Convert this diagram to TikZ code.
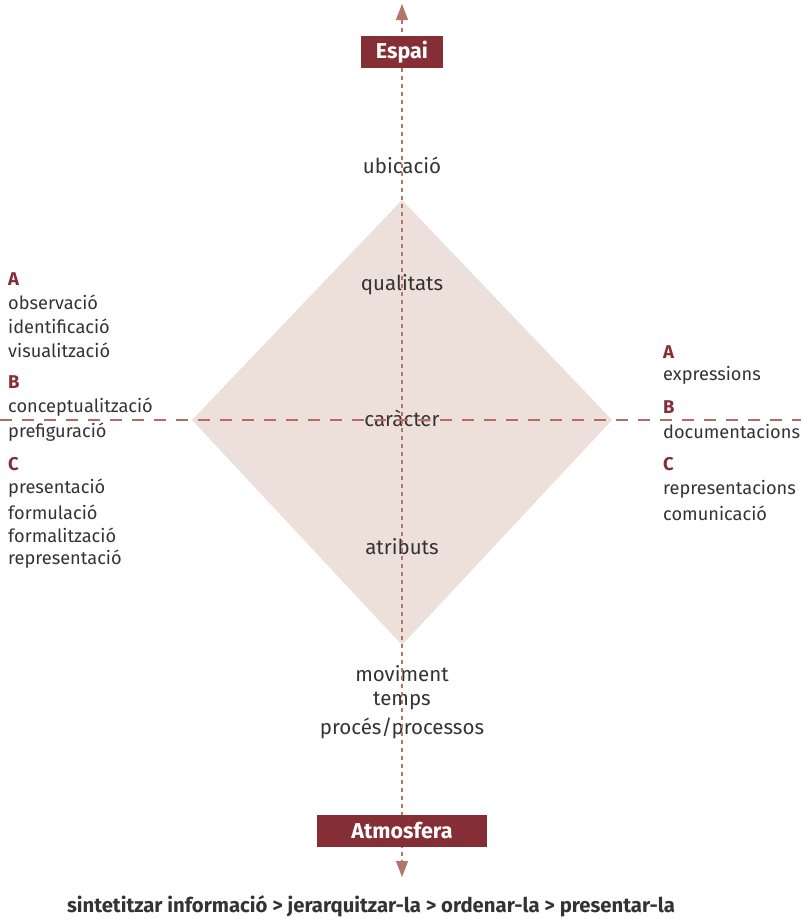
\documentclass[tikz,border=0pt]{standalone}
\usepackage{fontspec}
\setmainfont{Fira Sans}
\usetikzlibrary{arrows.meta}
\definecolor{wine}{HTML}{862E35}
\definecolor{dashc}{HTML}{B86B5E}
\definecolor{arrc}{HTML}{B07868}
\definecolor{diamondc}{HTML}{EDDFDA}
\definecolor{txt}{HTML}{333333}
\tikzset{
  lbl/.style={font=\fontsize{20.5}{20.5}\selectfont, text=txt, inner sep=0pt},
  sidetxt/.style={font=\fontsize{18.2}{18.2}\selectfont, text=txt, inner sep=0pt, anchor=west},
  letter/.style={font=\fontsize{18.5}{18.5}\selectfont\bfseries, text=wine, inner sep=0pt, anchor=west},
  axisbox/.style={fill=wine, text=white, font=\fontsize{21.5}{21.5}\selectfont\bfseries, inner sep=0pt, minimum height=32pt},
  hdash/.style={draw=dashc, line width=1.1pt, dash pattern=on 12pt off 10pt},
  vdash/.style={draw=arrc, line width=1.1pt, dash pattern=on 4pt off 4pt},
}
\begin{document}
\begin{tikzpicture}[x=1pt,y=-1pt]
\useasboundingbox (0,0) rectangle (801,918);
% diamond
\coordinate (dT) at (402,200);
\coordinate (dR) at (612,420);
\coordinate (dB) at (402,645);
\coordinate (dL) at (192,420);
\fill[diamondc] (dT) -- (dR) -- (dB) -- (dL) -- cycle;
% centre labels
\node[lbl] (ubic) at (402,165) {ubicació};
\node[lbl] (qual) at (402,285) {qualitats};
\node[lbl] (carac) at (402,418) {caràcter};
\node[lbl] (atrib) at (402,547) {atributs};
\node[lbl] (movi) at (402,674) {moviment};
\node[lbl] (temps) at (402,701) {temps};
\node[lbl] (proc) at (402,728) {procés/processos};
% left column
\node[letter] (lA) at (8,279) {A};
\node[sidetxt] (l1) at (8,302) {observació};
\node[sidetxt] (l2) at (8,326) {identificació};
\node[sidetxt] (l3) at (8,350) {visualització};
\node[letter] (lB) at (8,382) {B};
\node[sidetxt] (l4) at (8,407) {conceptualització};
\node[sidetxt] (l5) at (8,432) {prefiguració};
\node[letter] (lC) at (8,464) {C};
\node[sidetxt] (l6) at (8,488) {presentació};
\node[sidetxt] (l7) at (8,512) {formulació};
\node[sidetxt] (l8) at (8,535) {formalització};
\node[sidetxt] (l9) at (8,559) {representació};
% right column
\node[letter] (rA) at (663,352) {A};
\node[sidetxt] (r1) at (663,375) {expressions};
\node[letter] (rB) at (663,407) {B};
\node[sidetxt] (r2) at (663,432) {documentacions};
\node[letter] (rC) at (663,464) {C};
\node[sidetxt] (r3) at (663,489) {representacions};
\node[sidetxt] (r4) at (663,513) {comunicació};
% axes
\coordinate (hL) at (0,420);
\coordinate (hR) at (801,420);
\draw[hdash] (hL) -- (hR);
\coordinate (vT) at (402,4);
\coordinate (vB) at (402,877);
\draw[vdash, {Triangle[width=12pt,length=16pt,fill=arrc]}-{Triangle[width=12pt,length=16pt,fill=arrc]}] (vT) -- (vB);
% boxes
\node[axisbox, minimum width=82pt] (espai) at (402,52) {Espai};
\node[axisbox, minimum width=170pt] (atmos) at (402,831) {Atmosfera};
% bottom caption
\node[font=\fontsize{20.3}{20.3}\selectfont\bfseries, text=txt, inner sep=0pt] (cap) at (371,906) {sintetitzar informació > jerarquitzar-la > ordenar-la > presentar-la};
\end{tikzpicture}
\end{document}
